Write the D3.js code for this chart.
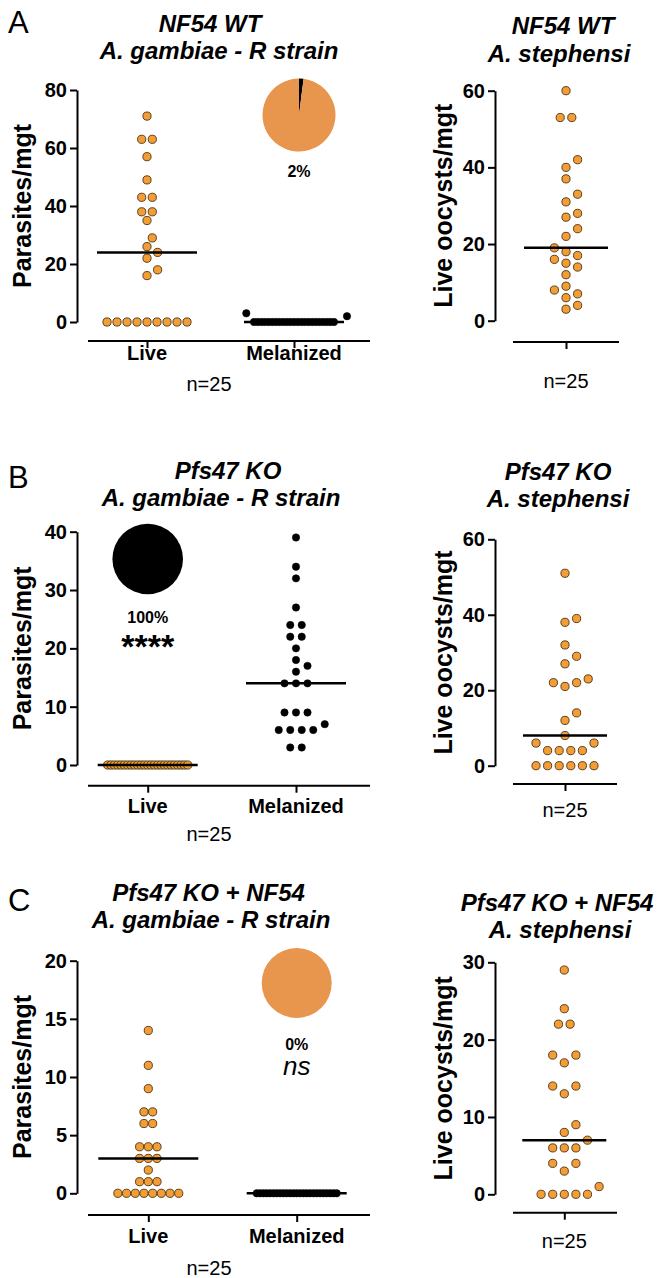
<!DOCTYPE html>
<html>
<head>
<meta charset="utf-8">
<script src="https://cdn.jsdelivr.net/npm/d3@7"></script>
<style>
  body { margin: 0; background: #fff; }
  svg { display: block; }
</style>
</head>
<body>
<svg id="chart" width="666" height="1278"></svg>
<script>
// ---------------- DATA ----------------
const panelLetters = ["A", "B", "C"];
const strainNames = ["NF54 WT", "Pfs47 KO", "Pfs47 KO + NF54"];
const gambiaeTitle = "A. gambiae - R strain";
const stephensiTitle = "A. stephensi";
const gambiaeCategories = ["Live", "Melanized"];
const stephensiCategories = ["Live"];
const leftYLabel = "Parasites/mgt";
const rightYLabel = "Live oocysts/mgt";
const nLabel = "n=25";

const wtGambiaeLive = [71, 63, 63, 57, 49, 43, 43, 38, 38, 35, 29, 26, 24, 22, 18, 16, 0, 0, 0, 0, 0, 0, 0, 0, 0];
const wtGambiaeMelanized = [3, 2, 0, 0, 0, 0, 0, 0, 0, 0, 0, 0, 0, 0, 0, 0, 0, 0, 0, 0, 0, 0, 0, 0, 0];
const wtStephensiLive = [60, 53, 53, 42, 40, 37, 33, 31, 28, 27, 24, 22, 19, 18, 17, 16, 15, 14, 12, 9, 8, 7, 6, 4, 3];

const koGambiaeLive = [0, 0, 0, 0, 0, 0, 0, 0, 0, 0, 0, 0, 0, 0, 0, 0, 0, 0, 0, 0, 0, 0, 0, 0, 0];
const koGambiaeMelanized = [39, 34, 32, 27, 24, 24, 22, 22, 20, 18, 17, 16, 14, 14, 14, 9, 9, 9, 7, 6, 6, 6, 6, 3, 3];
const koStephensiLive = [51, 39, 38, 32, 29, 27, 23, 22, 22, 21, 14, 12, 8, 6, 6, 4, 4, 4, 4, 0, 0, 0, 0, 0, 0];

const mixGambiaeLive = [14, 11, 9, 7, 7, 6, 6, 4, 4, 4, 3, 3, 3, 2, 1, 1, 1, 0, 0, 0, 0, 0, 0, 0, 0];
const mixGambiaeMelanized = [0, 0, 0, 0, 0, 0, 0, 0, 0, 0, 0, 0, 0, 0, 0, 0, 0, 0, 0, 0, 0, 0, 0, 0, 0];
const mixStephensiLive = [29, 24, 22, 22, 18, 18, 17, 14, 14, 13, 9, 8, 7, 6, 6, 6, 4, 4, 3, 1, 0, 0, 0, 0, 0];

const leftYTicks = [[0, 20, 40, 60, 80], [0, 10, 20, 30, 40], [0, 5, 10, 15, 20]];
const rightYTicks = [[0, 20, 40, 60], [0, 20, 40, 60], [0, 10, 20, 30]];

const melanizedPct = [2, 100, 0];
const pctLabels = ["2%", "100%", "0%"];
const sigLabels = ["", "****", "ns"];

// ---------------- STYLE / LAYOUT ----------------
const FONT = "'Liberation Sans', Arial, Helvetica, sans-serif";
const ORANGE = "#f39d36";
const ORANGE_STROKE = "#4a3212";
const PIE_ORANGE = "#e8954d";

const leftLayout = [
  { yTop: 90, yBot: 322, xAxisY: 341, cats: [147, 294], catBase: 360, nBase: 391,
    titleBase: [32, 59], titleX: [210, 219], letterBase: 33,
    pieCat: "Melanized", pieDx: 5, pieCy: 115, pieR: 36.5, pctBase: 177, sigBase: 0, s: 10.6 },
  { yTop: 531.7, yBot: 765, xAxisY: 785.7, cats: [147.7, 296], catBase: 813, nBase: 841,
    titleBase: [479, 506], titleX: [228, 221], letterBase: 488,
    pieCat: "Live", pieDx: 0, pieCy: 559, pieR: 35.3, pctBase: 622.5, sigBase: 658, s: 11.5 },
  { yTop: 960.7, yBot: 1193.3, xAxisY: 1215, cats: [148.3, 296.7], catBase: 1243, nBase: 1275,
    titleBase: [901, 928], titleX: [208.5, 211], letterBase: 911,
    pieCat: "Melanized", pieDx: 0, pieCy: 983, pieR: 35, pctBase: 1050, sigBase: 1075, s: 8.7 }
];
const rightLayout = [
  { yTop: 90.7, yBot: 320.7, xAxisY: 342, line: [513, 619], cat: 566, nBase: 388,
    titleBase: [34, 62], titleX: [563, 559] },
  { yTop: 539.3, yBot: 765.7, xAxisY: 784, line: [513, 617], cat: 565, nBase: 817,
    titleBase: [480, 507], titleX: [558, 558] },
  { yTop: 962.3, yBot: 1194.3, xAxisY: 1212.7, line: [513, 617], cat: 564.3, nBase: 1248,
    titleBase: [911, 938], titleX: [557, 560] }
];

const leftData = [
  [wtGambiaeLive, wtGambiaeMelanized],
  [koGambiaeLive, koGambiaeMelanized],
  [mixGambiaeLive, mixGambiaeMelanized]
];
const rightData = [wtStephensiLive, koStephensiLive, mixStephensiLive];

const svg = d3.select("#chart");
svg.append("rect").attr("width", 666).attr("height", 1278).attr("fill", "#fff");

// Beeswarm offsets (Prism-like: equal values in centred rows, collision avoidance)
function swarm(vals, y, s, maxW) {
  const D = 0.95 * s;
  const groups = d3.groups(d3.range(vals.length), i => vals[i]).sort((a, b) => a[0] - b[0]);
  const placed = [];
  const off = new Array(vals.length);
  for (const [v, items] of groups) {
    const k = items.length, py = y(v);
    const sp = k > 1 ? Math.min(s, maxW / (k - 1)) : s;
    const fs = (k > 1 && sp === s) ? [1, 2, 3, 4, 5, 6] : [1];
    const cands = [];
    for (const f of fs) {
      for (let m = -40; m <= 40; m++) {
        const shift = m * s / 2;
        const xs = items.map((_, j) => (j - (k - 1) / 2) * sp * f + shift);
        const cost = d3.max(xs, Math.abs) + Math.abs(m) * 0.01 + (m < 0 ? 0.001 : 0) + f * 0.0001;
        cands.push({ xs, cost });
      }
    }
    cands.sort((a, b) => a.cost - b.cost);
    let chosen = cands[0].xs;
    for (const c of cands) {
      if (c.xs.every(x => placed.every(p => Math.hypot(p.x - x, p.y - py) >= D))) { chosen = c.xs; break; }
    }
    items.forEach((i, j) => { off[i] = chosen[j]; });
    chosen.forEach(x => placed.push({ x, y: py }));
  }
  return off;
}

function styleAxis(g) {
  g.select(".domain").attr("stroke", "#000").attr("stroke-width", 2);
  g.selectAll(".tick line").attr("stroke", "#000").attr("stroke-width", 2);
  g.selectAll(".tick text").attr("fill", "#000")
    .style("font-family", FONT).style("font-size", "20px").style("font-weight", "bold");
}

function drawDots(g, vals, x0, y, s, maxW, color) {
  const off = swarm(vals, y, s, maxW);
  const isBlack = color === "black";
  g.append("g").selectAll("circle").data(vals).join("circle")
    .attr("cx", (d, i) => x0 + off[i])
    .attr("cy", d => y(d))
    .attr("r", isBlack ? 3.7 : 4.1)
    .attr("fill", isBlack ? "#000" : ORANGE)
    .attr("stroke", isBlack ? "#000" : ORANGE_STROKE)
    .attr("stroke-width", isBlack ? 0.5 : 0.9);
}

function drawMedian(g, vals, x0, y, w) {
  const m = d3.median(vals);
  g.append("line")
    .attr("x1", x0 - w / 2).attr("x2", x0 + w / 2)
    .attr("y1", y(m)).attr("y2", y(m))
    .attr("stroke", "#000").attr("stroke-width", 2.5);
}

function title(g, lines, xs, bases) {
  lines.forEach((t, i) => {
    g.append("text").text(t)
      .attr("x", xs[i]).attr("y", bases[i])
      .attr("text-anchor", "middle")
      .style("font-family", FONT).style("font-size", "24px")
      .style("font-weight", "bold").style("font-style", "italic");
  });
}

function yLabel(g, text, xBase, yMid) {
  g.append("text").text(text)
    .attr("transform", `translate(${xBase},${yMid}) rotate(-90)`)
    .attr("text-anchor", "middle")
    .style("font-family", FONT).style("font-size", "25px").style("font-weight", "bold");
}

// ---------------- LEFT PANELS (A. gambiae) ----------------
leftLayout.forEach((L, p) => {
  const g = svg.append("g");
  const ticks = leftYTicks[p];
  const y = d3.scaleLinear().domain([0, d3.max(ticks)]).range([L.yBot, L.yTop]);
  const x = d3.scalePoint().domain(gambiaeCategories).range(L.cats);

  g.append("text").text(panelLetters[p])
    .attr("x", 8).attr("y", L.letterBase)
    .style("font-family", FONT).style("font-size", "31px");

  title(g, [strainNames[p], gambiaeTitle], L.titleX, L.titleBase);

  const ya = g.append("g").attr("transform", "translate(77,0)")
    .call(d3.axisLeft(y).tickValues(ticks).tickSize(7).tickPadding(3).tickSizeOuter(0));
  styleAxis(ya);
  yLabel(g, leftYLabel, 31, (L.yTop + L.yBot) / 2);

  const xa = g.append("g").attr("transform", `translate(0,${L.xAxisY})`)
    .call(d3.axisBottom(x).tickSize(7).tickSizeOuter(0).tickFormat(""));
  xa.select(".domain").remove();
  styleAxis(xa);
  g.append("line").attr("x1", 88).attr("x2", 370).attr("y1", L.xAxisY).attr("y2", L.xAxisY)
    .attr("stroke", "#000").attr("stroke-width", 2);

  gambiaeCategories.forEach(c => {
    g.append("text").text(c).attr("x", x(c)).attr("y", L.catBase)
      .attr("text-anchor", "middle")
      .style("font-family", FONT).style("font-size", "20px").style("font-weight", "bold");
  });
  g.append("text").text(nLabel).attr("x", 209).attr("y", L.nBase)
    .attr("text-anchor", "middle").style("font-family", FONT).style("font-size", "20px");

  const [live, mel] = leftData[p];
  drawDots(g, live, x("Live"), y, L.s, 80, "orange");
  drawDots(g, mel, x("Melanized"), y, L.s, 80, "black");
  drawMedian(g, live, x("Live"), y, 100);
  drawMedian(g, mel, x("Melanized"), y, 100);

  const cx = x(L.pieCat) + L.pieDx;
  const pie = d3.pie().sort(null).value(d => d)([melanizedPct[p], 100 - melanizedPct[p]]);
  const arc = d3.arc().innerRadius(0).outerRadius(L.pieR);
  g.append("g").attr("transform", `translate(${cx},${L.pieCy})`)
    .selectAll("path").data(pie).join("path")
    .attr("d", arc)
    .attr("fill", (d, i) => i === 0 ? "#000" : PIE_ORANGE);
  g.append("text").text(pctLabels[p]).attr("x", cx).attr("y", L.pctBase)
    .attr("text-anchor", "middle")
    .style("font-family", FONT).style("font-size", "16px").style("font-weight", "bold");
  if (sigLabels[p]) {
    const isNs = sigLabels[p] === "ns";
    g.append("text").text(sigLabels[p]).attr("x", cx).attr("y", L.sigBase)
      .attr("text-anchor", "middle")
      .style("font-family", FONT)
      .style("font-size", isNs ? "26px" : "34px")
      .style("font-weight", isNs ? "normal" : "bold")
      .style("font-style", isNs ? "italic" : "normal");
  }
});

// ---------------- RIGHT PANELS (A. stephensi) ----------------
rightLayout.forEach((L, p) => {
  const g = svg.append("g");
  const ticks = rightYTicks[p];
  const y = d3.scaleLinear().domain([0, d3.max(ticks)]).range([L.yBot, L.yTop]);
  const x = d3.scalePoint().domain(stephensiCategories).range([L.cat, L.cat]);

  title(g, [strainNames[p], stephensiTitle], L.titleX, L.titleBase);

  const ya = g.append("g").attr("transform", "translate(495,0)")
    .call(d3.axisLeft(y).tickValues(ticks).tickSize(7).tickPadding(3).tickSizeOuter(0));
  styleAxis(ya);
  yLabel(g, rightYLabel, 451.5, (L.yTop + L.yBot) / 2);

  const xa = g.append("g").attr("transform", `translate(0,${L.xAxisY})`)
    .call(d3.axisBottom(x).tickSize(7).tickSizeOuter(0).tickFormat(""));
  xa.select(".domain").remove();
  styleAxis(xa);
  g.append("line").attr("x1", L.line[0]).attr("x2", L.line[1]).attr("y1", L.xAxisY).attr("y2", L.xAxisY)
    .attr("stroke", "#000").attr("stroke-width", 2);

  g.append("text").text(nLabel).attr("x", x("Live")).attr("y", L.nBase)
    .attr("text-anchor", "middle").style("font-family", FONT).style("font-size", "20px");

  const vals = rightData[p];
  drawDots(g, vals, x("Live"), y, 11.6, 80, "orange");
  drawMedian(g, vals, x("Live"), y, 84);
});
</script>
</body>
</html>
